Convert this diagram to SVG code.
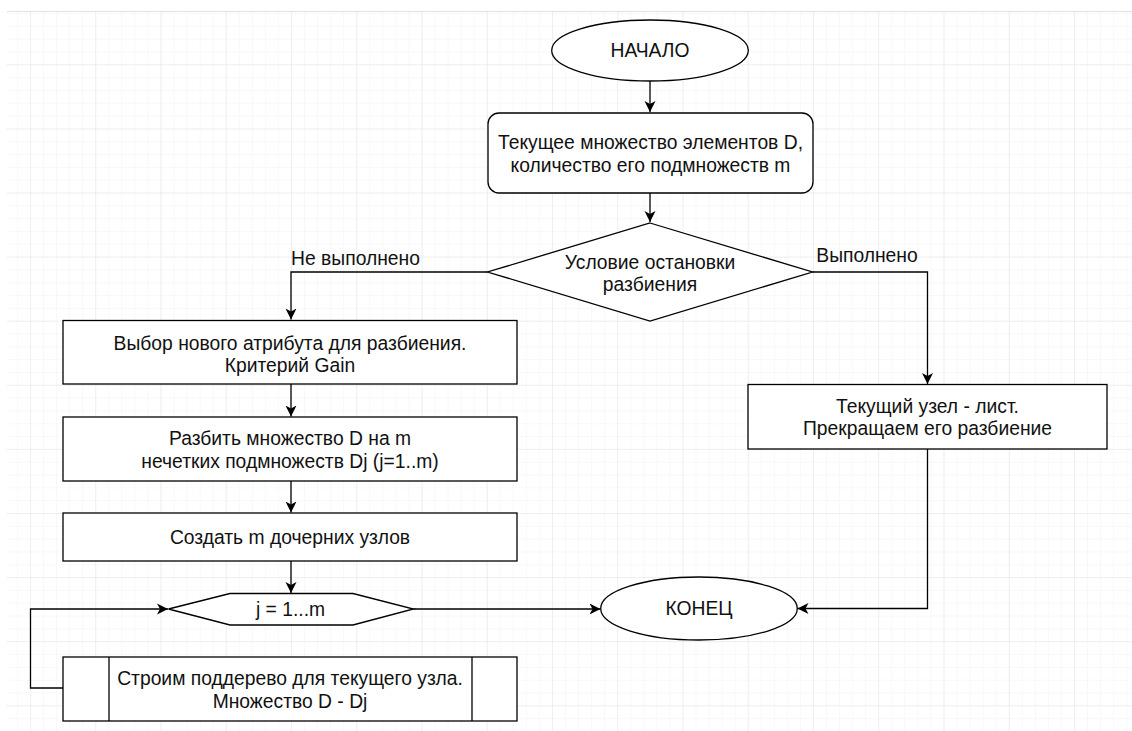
<svg xmlns="http://www.w3.org/2000/svg" width="1132" height="731" viewBox="0 0 1132 731">
  <defs>
    <pattern id="minor" x="30" y="0.2" width="13.05" height="12.82" patternUnits="userSpaceOnUse">
      <path d="M0,0 V12.82 M0,0 H13.05" fill="none" stroke="#f2f2f2" stroke-width="1"/>
    </pattern>
    <pattern id="major" x="30" y="0.2" width="65.25" height="64.1" patternUnits="userSpaceOnUse">
      <path d="M0,0 V64.1 M0,0 H65.25" fill="none" stroke="#e6e6e6" stroke-width="1"/>
    </pattern>
    <marker id="arrow" markerUnits="userSpaceOnUse" markerWidth="14" markerHeight="14" refX="11" refY="6" orient="auto">
      <path d="M0,0.5 L11,6 L0,11.5 L3,6 Z" fill="#000"/>
    </marker>
    <style>
      .shape { fill: #fff; stroke: #000; stroke-width: 1.3; }
      .edge { fill: none; stroke: #000; stroke-width: 1.3; }
      .t { font-family: "Liberation Sans", Arial, sans-serif; font-size: 19.3px; fill: #111; text-anchor: middle; dominant-baseline: central; }
    </style>
  </defs>

  <g id="background">
    <rect x="0" y="0" width="1132" height="731" fill="#fff"/>
    <rect x="7" y="12" width="1125" height="719" fill="url(#minor)"/>
    <rect x="7" y="12" width="1125" height="719" fill="url(#major)"/>
    <line x1="7" y1="11.5" x2="1132" y2="11.5" stroke="#e2e2e2" stroke-width="1"/>
  </g>

  <g id="connectors">
    <path class="edge" d="M650,81 V112" marker-end="url(#arrow)"/>
    <path class="edge" d="M650,193 V222" marker-end="url(#arrow)"/>
    <path class="edge" d="M487.5,272 H291 V319.5" marker-end="url(#arrow)"/>
    <path class="edge" d="M812.5,272 H927.5 V384" marker-end="url(#arrow)"/>
    <path class="edge" d="M291,384 V416.5" marker-end="url(#arrow)"/>
    <path class="edge" d="M291,481 V512.5" marker-end="url(#arrow)"/>
    <path class="edge" d="M291,561 V593" marker-end="url(#arrow)"/>
    <path class="edge" d="M413.5,609 H600.5" marker-end="url(#arrow)"/>
    <path class="edge" d="M63,688 H30.5 V609 H168" marker-end="url(#arrow)"/>
    <path class="edge" d="M927.5,449 V608.5 H797.5" marker-end="url(#arrow)"/>
    <text class="t" x="355.5" y="258">Не выполнено</text>
    <text class="t" x="867" y="255">Выполнено</text>
  </g>

  <g id="start">
    <ellipse class="shape" cx="650" cy="50.5" rx="98.3" ry="30.5"/>
    <text class="t" x="650" y="50">НАЧАЛО</text>
  </g>

  <g id="current-set">
    <rect class="shape" x="488" y="113" width="325" height="80" rx="11" ry="11"/>
    <text class="t" x="650.5" y="142">Текущее множество элементов D,</text>
    <text class="t" x="650.5" y="165">количество его подмножеств m</text>
  </g>

  <g id="stop-condition">
    <polygon class="shape" points="650,223 812.5,272 650,321 487.5,272"/>
    <text class="t" x="650" y="262">Условие остановки</text>
    <text class="t" x="650" y="284">разбиения</text>
  </g>

  <g id="choose-attribute">
    <rect class="shape" x="63" y="320.5" width="454" height="63.5"/>
    <text class="t" x="290" y="343">Выбор нового атрибута для разбиения.</text>
    <text class="t" x="290" y="365">Критерий Gain</text>
  </g>

  <g id="split-set">
    <rect class="shape" x="63" y="417" width="454" height="64"/>
    <text class="t" x="290" y="438">Разбить множество D на m</text>
    <text class="t" x="290" y="461">нечетких подмножеств Dj (j=1..m)</text>
  </g>

  <g id="create-children">
    <rect class="shape" x="63" y="513" width="454" height="48"/>
    <text class="t" x="290" y="537.5">Создать m дочерних узлов</text>
  </g>

  <g id="loop">
    <polygon class="shape" points="168.5,609 230,593.5 353,593.5 413.5,609 353,625 230,625"/>
    <text class="t" x="290.5" y="609.5">j = 1...m</text>
  </g>

  <g id="subtree">
    <rect class="shape" x="63" y="657" width="454" height="64"/>
    <line class="edge" x1="109" y1="657" x2="109" y2="721"/>
    <line class="edge" x1="472" y1="657" x2="472" y2="721"/>
    <text class="t" x="290" y="678">Строим поддерево для текущего узла.</text>
    <text class="t" x="290" y="701">Множество D - Dj</text>
  </g>

  <g id="leaf">
    <rect class="shape" x="748" y="384.5" width="359" height="64.5"/>
    <text class="t" x="927.5" y="406.5">Текущий узел - лист.</text>
    <text class="t" x="927.5" y="428.5">Прекращаем его разбиение</text>
  </g>

  <g id="end">
    <ellipse class="shape" cx="699" cy="608.5" rx="98.3" ry="31.5"/>
    <text class="t" x="699" y="608.5">КОНЕЦ</text>
  </g>
</svg>
